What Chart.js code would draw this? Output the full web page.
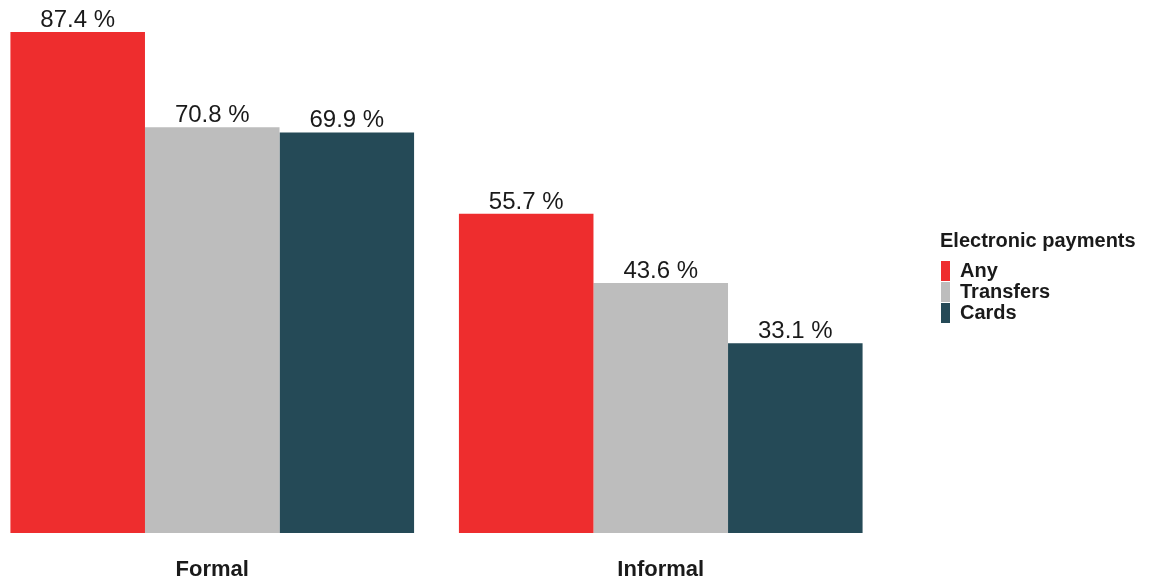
<!DOCTYPE html>
<html>
<head>
<meta charset="utf-8">
<script src="https://cdn.jsdelivr.net/npm/chart.js@4/dist/chart.umd.min.js"></script>
<style>
  html, body { margin: 0; padding: 0; background: #fff; overflow: hidden; }
  #wrap { position: absolute; left: -12px; top: 0; width: 1163px; height: 583px; }
</style>
</head>
<body>
<div id="wrap"><canvas id="grafico" width="1163" height="583"></canvas></div>
<script>
// Categorías y series
const categorias = ['Formal', 'Informal'];
const serieAny = [87.4, 55.7];
const serieTransfers = [70.8, 43.6];
const serieCards = [69.9, 33.1];

const colores = {
    any: '#EE2D2E',
    transfers: '#BDBDBD',
    cards: '#254A57'
};

Chart.defaults.font.family = '"Liberation Sans", Arial, sans-serif';
Chart.defaults.color = '#1a1a1a';

// Etiquetas de valor encima de cada barra
const etiquetasValor = {
    id: 'etiquetasValor',
    afterDatasetsDraw(chart) {
        const ctx = chart.ctx;
        ctx.save();
        ctx.font = '24px "Liberation Sans", Arial, sans-serif';
        ctx.fillStyle = '#1a1a1a';
        ctx.textAlign = 'center';
        ctx.textBaseline = 'alphabetic';
        chart.data.datasets.forEach((ds, i) => {
            chart.getDatasetMeta(i).data.forEach((barra, j) => {
                ctx.fillText(ds.data[j].toFixed(1) + ' %', barra.x, barra.y - 5);
            });
        });
        ctx.restore();
    }
};

// Ancho fijo de la leyenda para que quepa el título completo
const anchoLeyenda = {
    id: 'anchoLeyenda',
    beforeLayout(chart) {
        const leyenda = chart.legend;
        if (leyenda && !leyenda._anchoFijo) {
            const fitOriginal = leyenda.fit.bind(leyenda);
            leyenda.fit = function () {
                fitOriginal();
                this.width = 211;
            };
            leyenda._anchoFijo = true;
        }
    }
};

new Chart(document.getElementById('grafico'), {
    type: 'bar',
    data: {
        labels: categorias,
        datasets: [
            { label: 'Any', data: serieAny, backgroundColor: colores.any, borderWidth: 0 },
            { label: 'Transfers', data: serieTransfers, backgroundColor: colores.transfers, borderWidth: 0 },
            { label: 'Cards', data: serieCards, backgroundColor: colores.cards, borderWidth: 0 }
        ]
    },
    options: {
        responsive: false,
        animation: false,
        devicePixelRatio: 1,
        categoryPercentage: 0.9,
        barPercentage: 1,
        layout: { padding: 0 },
        scales: {
            x: {
                grid: { display: false, drawTicks: false },
                border: { display: false },
                ticks: { padding: 23.6, font: { size: 22, weight: 'bold' }, color: '#1a1a1a' },
                afterFit: (escala) => { escala.height = 50; }
            },
            y: {
                position: 'right',
                min: 0,
                max: 93,
                grid: { display: false, drawTicks: false },
                border: { display: false },
                ticks: { display: false },
                afterFit: (escala) => { escala.width = 55; }
            }
        },
        plugins: {
            tooltip: { enabled: false },
            legend: {
                position: 'right',
                align: 'start',
                title: {
                    display: true,
                    text: 'Electronic payments',
                    position: 'start',
                    color: '#1a1a1a',
                    font: { size: 20, weight: 'bold' },
                    padding: { top: 231, bottom: 5 }
                },
                labels: {
                    boxWidth: 9,
                    boxHeight: 20,
                    padding: 1,
                    color: '#1a1a1a',
                    font: { size: 20, weight: 'bold', lineHeight: 1 }
                }
            }
        }
    },
    plugins: [etiquetasValor, anchoLeyenda]
});
</script>
</body>
</html>
